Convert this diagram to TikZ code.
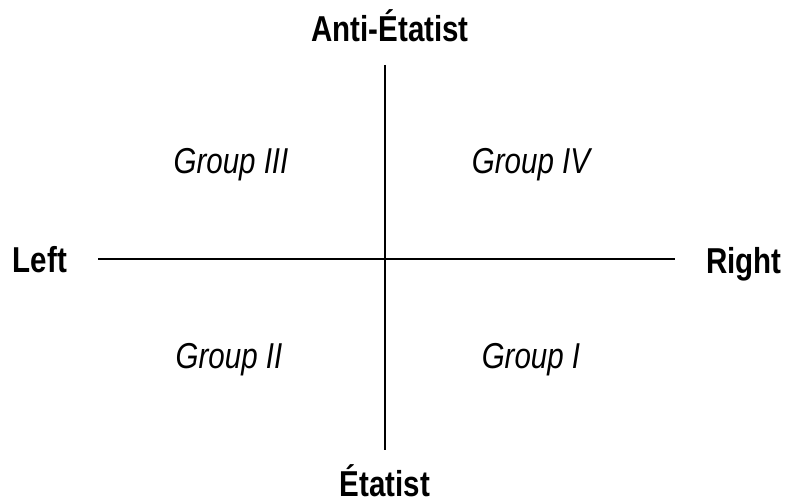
\documentclass[tikz,border=0pt]{standalone}
\usepackage{fontspec}
\setmainfont{Liberation Sans}[FakeStretch=0.82]
\begin{document}
\begin{tikzpicture}[x=1pt,y=-1pt,
  axis/.style={line width=2pt,black},
  axlabel/.style={font=\fontsize{36}{38}\selectfont\bfseries,inner sep=0pt,anchor=base},
  grp/.style={font=\fontsize{36}{38}\selectfont\itshape,inner sep=0pt,anchor=base}]
\useasboundingbox (0,0) rectangle (785,503);
\coordinate (top) at (385,65);
\coordinate (bot) at (385,450);
\coordinate (lft) at (98,259);
\coordinate (rgt) at (675,259);
\draw[axis] (top) -- (bot);
\draw[axis] (lft) -- (rgt);
\node[axlabel] (anti) at (390,42) {Anti-Étatist};
\node[axlabel] (etat) at (385,496) {Étatist};
\node[axlabel] (left) at (40,272) {Left};
\node[axlabel] (right) at (744,273) {Right};
\node[grp] (g3) at (231,173) {Group III};
\node[grp] (g4) at (531,173) {Group IV};
\node[grp] (g2) at (229,368) {Group II};
\node[grp] (g1) at (531,368) {Group I};
\end{tikzpicture}
\end{document}
